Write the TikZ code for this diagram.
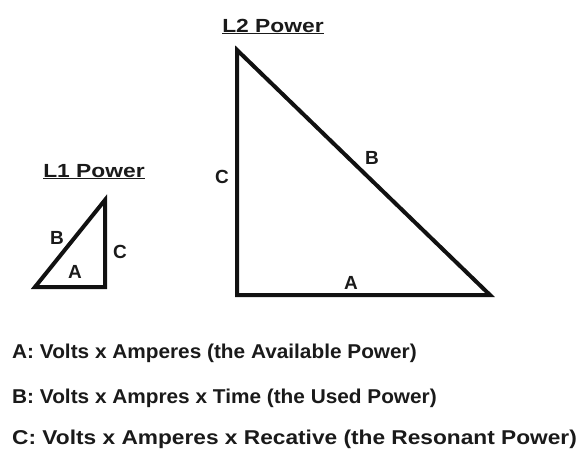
\documentclass[tikz,border=0pt]{standalone}
\usepackage{fontspec}
\setmainfont{Liberation Sans}
\usepackage{tikz}
\usetikzlibrary{positioning,calc}
\definecolor{pwrInk}{HTML}{111111}
\definecolor{pwrText}{HTML}{1A1A1A}
\begin{document}
\begin{tikzpicture}[x=1pt,y=-1pt,
  tri/.style={draw=pwrInk,line width=4pt,line join=miter},
  side/.style={text=pwrText,font=\bfseries\fontsize{19}{22}\selectfont,inner sep=0pt},
  head/.style={text=pwrText,font=\bfseries\fontsize{19}{22}\selectfont,inner sep=0pt,
    anchor=base,xscale=1.2},
  legend/.style={text=pwrText,font=\bfseries\fontsize{20}{22}\selectfont,inner sep=0pt,
    anchor=base west}]
\useasboundingbox (0,0) rectangle (582,450);
% small triangle
\coordinate (s1) at (35,287);
\coordinate (s2) at (105,200);
\coordinate (s3) at (105,287);
\draw[tri] (s1) -- (s2) -- (s3) -- cycle;
\node[head] (l1) at (94,177) {\underline{L1 Power}};
\node[side] (sB) at (57,238) {B};
\node[side] (sC) at (120,252) {C};
\node[side] (sA) at (75,272) {A};
% large triangle
\coordinate (b1) at (237,50);
\coordinate (b2) at (237,295);
\coordinate (b3) at (490,295);
\draw[tri] (b1) -- (b2) -- (b3) -- cycle;
\node[head] (l2) at (273,32) {\underline{L2 Power}};
\node[side] (bC) at (222,177) {C};
\node[side] (bB) at (372,158) {B};
\node[side] (bA) at (351,283) {A};
% legend
\node[legend,xscale=1.04] (la) at (12,358) {A: Volts x Amperes (the Available Power)};
\node[legend,xscale=1.04] (lb) at (12,403) {B: Volts x Ampres x Time (the Used Power)};
\node[legend,xscale=1.135] (lc) at (12,444) {C: Volts x Amperes x Recative (the Resonant Power)};
\end{tikzpicture}
\end{document}
